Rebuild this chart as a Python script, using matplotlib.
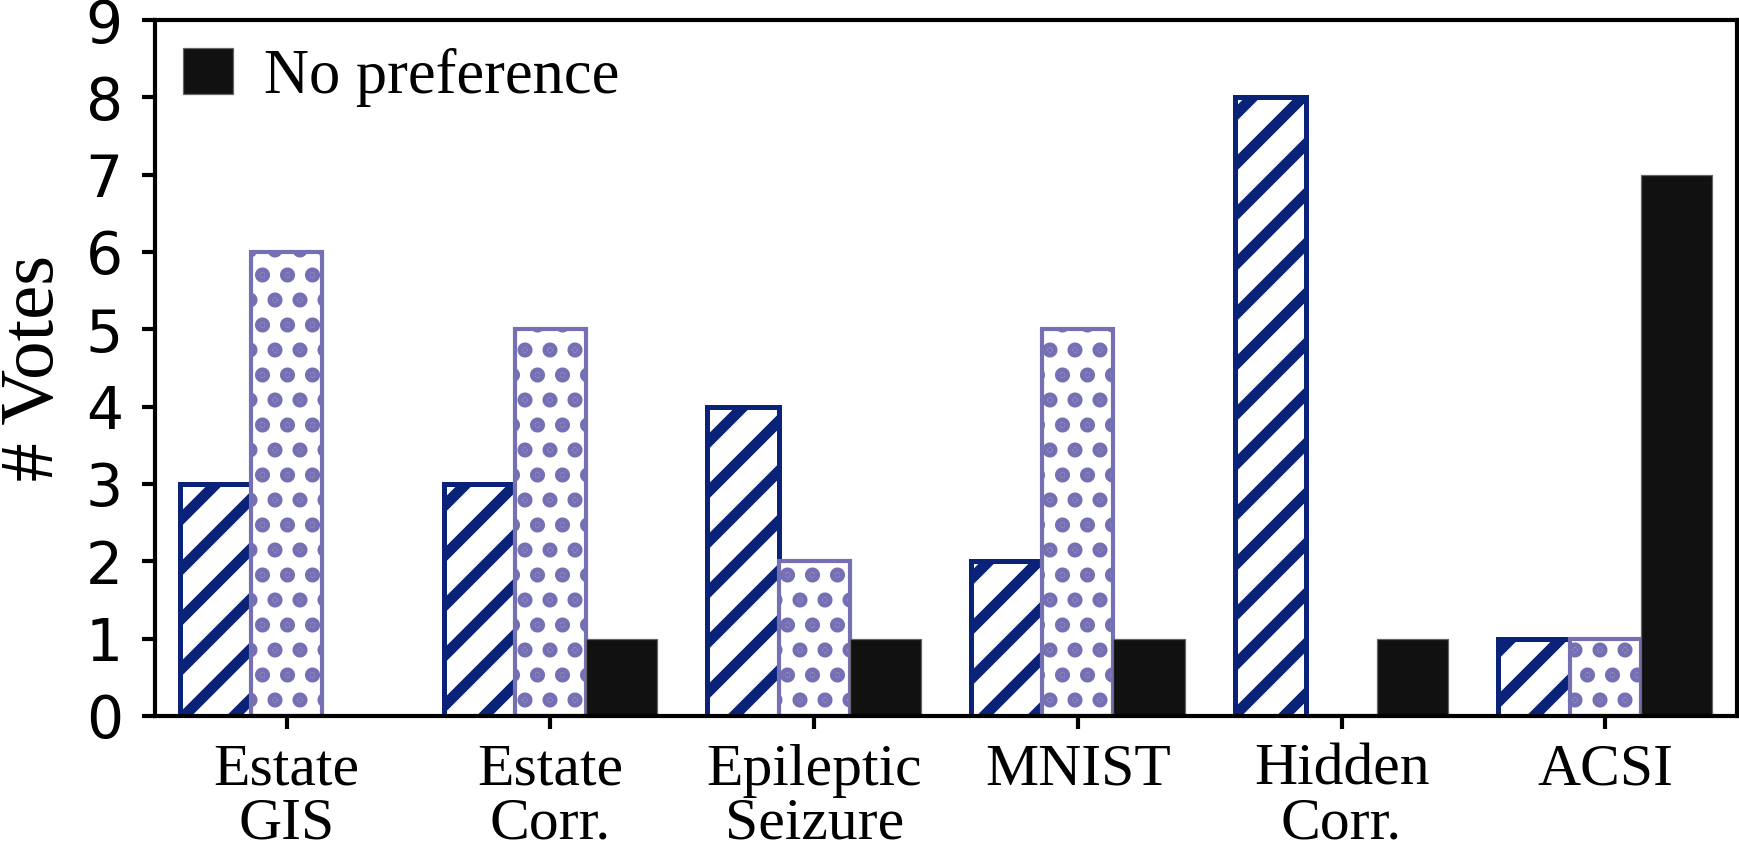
import numpy as np
import matplotlib
matplotlib.use("Agg")
import matplotlib.pyplot as plt

datasets = ["Estate\nGIS", "Estate\nCorr.", "Epileptic\nSeizure", "MNIST", "Hidden\nCorr.", "ACSI"]
method_a = [3, 3, 4, 2, 8, 1]
method_b = [6, 5, 2, 5, 0, 1]
no_pref = [0, 1, 1, 1, 1, 7]
yticks = list(range(10))

plt.rcParams["font.family"] = ["Liberation Serif", "DejaVu Serif"]

fig = plt.figure(figsize=(1739 / 300, 855 / 300), dpi=300)
ax = fig.add_axes([0.0891, 0.1626, 0.9098, 0.814])

x = np.arange(len(datasets))
w = 0.27


def set_hatch_lw(bars, lw):
    for p in bars:
        if hasattr(p, "set_hatch_linewidth"):
            p.set_hatch_linewidth(lw)


plt.rcParams["hatch.linewidth"] = 2.6
stripes = ax.bar(x - w, method_a, w, color="white", edgecolor="#0a2378",
                 hatch="//", linewidth=1.2, label="_a")
set_hatch_lw(stripes, 2.6)

plt.rcParams["hatch.linewidth"] = 2.4
dots = ax.bar(x, method_b, w, color="white", edgecolor="#7570b3",
              hatch="..", linewidth=1.0, label="_b")
set_hatch_lw(dots, 2.4)

ax.bar(x + w, no_pref, w, color="#111111", edgecolor="#666666",
       linewidth=0.3, label="No preference")

ax.set_xlim(-0.5, 5.5)
ax.set_ylim(0, 9)
ax.set_yticks(yticks)
ax.set_yticklabels([str(v) for v in yticks], family="DejaVu Sans", fontsize=14)
ax.set_xticks(x)
ax.set_xticklabels(datasets, fontsize=14.3, linespacing=1.0)
ax.set_ylabel("# Votes", fontsize=18.5, labelpad=4)

for s in ax.spines.values():
    s.set_linewidth(1.0)
ax.tick_params(axis="both", length=3.2, width=1.0)
ax.tick_params(axis="y", pad=4.5)
ax.tick_params(axis="x", pad=3.5)

ax.legend(loc="upper left", frameon=False, fontsize=15,
          handlelength=0.8, handleheight=0.75, handletextpad=0.5,
          borderpad=0.2, borderaxespad=0.25)

fig.savefig("out.png", dpi=300)
